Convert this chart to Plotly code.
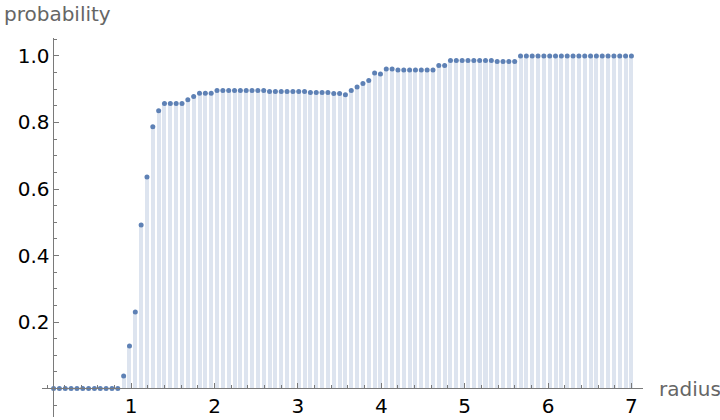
import plotly.graph_objects as go

# radius sample points (k * 0.07, k = 1..100)
radius = [round(0.07 * k, 2) for k in range(1, 101)]

probability = (
    [0.0] * 12
    + [0.038, 0.128, 0.230, 0.492, 0.636, 0.787, 0.835]
    + [0.857] * 4
    + [0.868, 0.878]
    + [0.888] * 3
    + [0.896] * 9
    + [0.893] * 7
    + [0.890] * 4
    + [0.887] * 2
    + [0.883, 0.896, 0.907, 0.917, 0.926, 0.949, 0.946]
    + [0.961] * 2
    + [0.958] * 7
    + [0.971] * 2
    + [0.986] * 8
    + [0.983] * 4
    + [1.0] * 20
)

x_ticks = [1, 2, 3, 4, 5, 6, 7]
y_ticks = [0.2, 0.4, 0.6, 0.8, 1.0]
y_tick_text = ["0.2", "0.4", "0.6", "0.8", "1.0"]

point_color = "#5E81B5"
fill_color = "#dde4ef"
axis_color = "#7a7a7a"
font_family = "DejaVu Sans"

fig = go.Figure()
fig.add_trace(go.Bar(
    x=radius, y=probability, width=0.048,
    marker=dict(color=fill_color, line=dict(width=0)),
    hoverinfo="skip", showlegend=False,
))
fig.add_trace(go.Scatter(
    x=radius, y=probability, mode="markers",
    marker=dict(color=point_color, size=5),
    showlegend=False,
))

fig.update_layout(
    width=720, height=420,
    margin=dict(l=42, r=77, t=38, b=3, autoexpand=False),
    paper_bgcolor="white", plot_bgcolor="white",
    font=dict(family=font_family, size=19, color="black"),
    bargap=0,
    xaxis=dict(
        range=[-0.069, 7.139], anchor="free", position=0.0752, automargin=False,
        showgrid=False, zeroline=False,
        showline=True, linecolor=axis_color, linewidth=1,
        tickvals=x_ticks, ticktext=[str(v) for v in x_ticks],
        ticks="inside", ticklen=5, tickcolor=axis_color,
        minor=dict(tick0=0, dtick=0.2, ticks="inside", ticklen=3, tickcolor=axis_color),
        tickfont=dict(size=20, color="black"),
    ),
    yaxis=dict(
        range=[-0.0855, 1.054], anchor="free", position=0.0191, automargin=False,
        showgrid=False, zeroline=False,
        showline=True, linecolor=axis_color, linewidth=1,
        tickvals=y_ticks, ticktext=y_tick_text,
        ticks="inside", ticklen=5, tickcolor=axis_color,
        minor=dict(tick0=0, dtick=0.05, ticks="inside", ticklen=3, tickcolor=axis_color),
        tickfont=dict(size=20, color="black"),
    ),
    annotations=[
        dict(text="probability", xref="paper", yref="paper", x=-0.0666, y=1.063,
             xanchor="left", yanchor="middle", showarrow=False,
             font=dict(size=20, color="#666666")),
        dict(text="radius", xref="paper", yref="y", x=1.023, y=0,
             xanchor="left", yanchor="middle", showarrow=False,
             font=dict(size=20, color="#666666")),
    ],
)

fig.write_html(
    "out.html",
    config={"displayModeBar": False},
    post_script="document.body.style.margin='0px';document.body.style.overflow='hidden';",
)
